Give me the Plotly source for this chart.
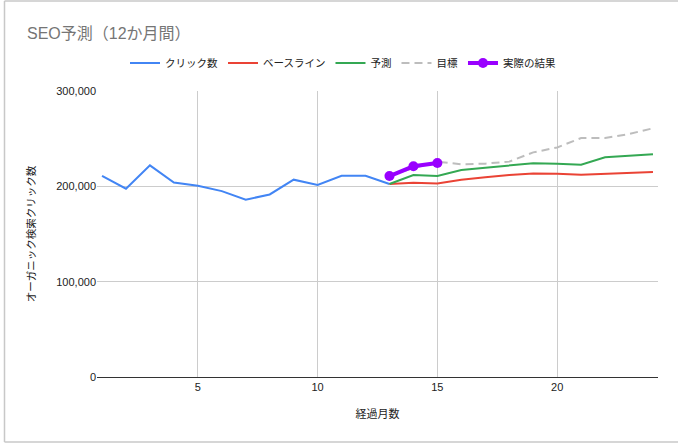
import plotly.graph_objects as go

# ---- data ----
months_hist = [1, 2, 3, 4, 5, 6, 7, 8, 9, 10, 11, 12, 13]
clicks = [211000, 197500, 222000, 204000, 200500, 195000, 186000, 191500, 207000, 201500, 211000, 211000, 202500]

months_fc = [13, 14, 15, 16, 17, 18, 19, 20, 21, 22, 23, 24]
baseline = [202500, 203800, 203100, 207000, 209500, 211900, 213500, 213300, 212200, 213300, 213700, 215000]
forecast = [202500, 211900, 210800, 217100, 219600, 221700, 224200, 223800, 222700, 230400, 231800, 233600]
target = [212000, 219000, 225900, 223100, 223800, 225900, 235600, 240800, 250700, 250700, 254900, 260900]

months_act = [13, 14, 15]
actual = [210800, 221000, 224500]

x_ticks = [5, 10, 15, 20]
y_ticks = [0, 100000, 200000, 300000]
y_ticklabels = ["0", "100,000", "200,000", "300,000"]

FONT = "Liberation Sans, Arial, Noto Sans CJK JP, sans-serif"

fig = go.Figure()
fig.add_trace(go.Scatter(x=months_hist, y=clicks, mode="lines", name="クリック数",
                         line=dict(color="#4285F4", width=2)))
fig.add_trace(go.Scatter(x=months_fc, y=baseline, mode="lines", name="ベースライン",
                         line=dict(color="#EA4335", width=2)))
fig.add_trace(go.Scatter(x=months_fc, y=forecast, mode="lines", name="予測",
                         line=dict(color="#34A853", width=2)))
fig.add_trace(go.Scatter(x=months_fc, y=target, mode="lines", name="目標",
                         line=dict(color="#BDBDBD", width=2, dash="8px,5px")))
fig.add_trace(go.Scatter(x=months_act, y=actual, mode="lines+markers", name="実際の結果",
                         line=dict(color="#9900FF", width=4),
                         marker=dict(color="#9900FF", size=10)))

W, H = 678, 445
L, R, T, B = 97, 20, 91, 68
pw, ph = W - L - R, H - T - B

def px(x):
    return (x - L) / pw

def py(y):
    return (H - B - y) / ph

border = dict(color="#C8C8C8", width=1.5)
shapes = [
    dict(type="line", xref="paper", yref="paper", x0=px(4.5), x1=px(678), y0=py(1), y1=py(1), line=border),
    dict(type="line", xref="paper", yref="paper", x0=px(4.5), x1=px(4.5), y0=py(1), y1=py(442), line=border),
    dict(type="line", xref="paper", yref="paper", x0=px(4.5), x1=px(678), y0=py(442), y1=py(442), line=border),
]

fig.update_layout(
    width=W, height=H,
    margin=dict(l=L, r=R, t=T, b=B),
    paper_bgcolor="white", plot_bgcolor="white",
    font=dict(family=FONT, size=11, color="#222222"),
    title=dict(text="SEO予測（12か月間）", xref="container", yref="container",
               x=27 / W, xanchor="left", y=1 - 33 / H, yanchor="middle",
               font=dict(family=FONT, size=16, color="#757575")),
    showlegend=True,
    legend=dict(orientation="h", xanchor="center", x=px(343), yanchor="middle", y=py(63),
                itemwidth=30,
                font=dict(family=FONT, size=10.5, color="#222222"), bgcolor="rgba(0,0,0,0)"),
    xaxis=dict(range=[0.79, 24.21], tickvals=x_ticks, showgrid=True, gridcolor="#CCCCCC",
               gridwidth=1, zeroline=False, showline=True, linecolor="#333333", linewidth=1,
               ticks="", tickfont=dict(size=11, color="#222222"),
               title=dict(text="経過月数", standoff=18, font=dict(size=11, color="#222222"))),
    yaxis=dict(range=[0, 300000], tickvals=y_ticks, ticktext=y_ticklabels, showgrid=True,
               gridcolor="#CCCCCC", gridwidth=1, zeroline=False, showline=False, ticks="",
               tickfont=dict(size=11, color="#222222"),
               title=dict(text="オーガニック検索クリック数", standoff=18,
                          font=dict(size=10.5, color="#222222"))),
    shapes=shapes,
)

fig.write_html("out.html", config={"displayModeBar": False},
               post_script="document.body.style.margin='0';document.body.style.overflow='hidden';")
